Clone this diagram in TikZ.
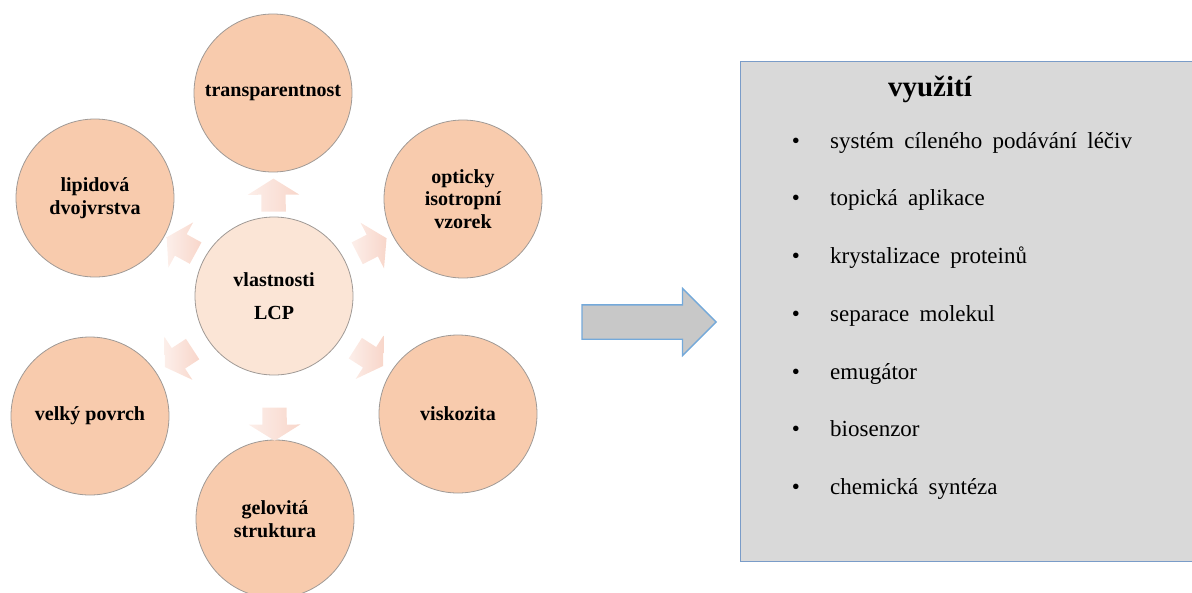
\documentclass[tikz,border=0pt]{standalone}
\usepackage{fontspec}
\setmainfont{Liberation Serif}
\usetikzlibrary{shapes.arrows,calc}
\definecolor{outerfill}{HTML}{F8CBAD}
\definecolor{centerfill}{HTML}{FBE5D6}
\definecolor{circborder}{HTML}{A09A96}
\definecolor{smallarrowc}{HTML}{F8D6CA}
\definecolor{boxfill}{HTML}{D9D9D9}
\definecolor{boxborder}{HTML}{7A9CC8}
\definecolor{bigfill}{HTML}{C8C8C8}
\definecolor{bigborder}{HTML}{74A9DA}
\newcommand{\myWideSpace}{\spaceskip=0.45em plus 0.1em\relax}
\begin{document}
\begin{tikzpicture}[x=1pt,y=-1pt,
  outer/.style={circle, draw=circborder, line width=0.8pt, fill=outerfill,
    minimum size=158pt, inner sep=0pt, align=center,
    font=\fontsize{20}{22.5}\selectfont\bfseries},
  centerc/.style={outer, fill=centerfill},
  smarrow/.style={single arrow, minimum height=33pt, minimum width=51pt,
    single arrow head extend=13.5pt, single arrow tip angle=116,
    inner xsep=1pt, inner ysep=12pt, allow upside down,
    shading=axis, left color=smallarrowc!40, right color=smallarrowc, draw=none},
  bigarrow/.style={single arrow, minimum height=134pt, minimum width=66pt,
    single arrow head extend=16.5pt, single arrow tip angle=90,
    inner xsep=1pt, inner ysep=16.5pt,
    fill=bigfill, draw=bigborder, line width=1.3pt},
  usebox/.style={rectangle, draw=boxborder, line width=1.3pt, fill=boxfill,
    minimum width=470pt, minimum height=500pt, inner sep=0pt},
  titletext/.style={font=\fontsize{29}{29}\selectfont\bfseries, inner sep=0pt},
  itemtext/.style={font=\fontsize{23}{27}\selectfont, inner sep=0pt, anchor=mid west},
  bullettext/.style={font=\fontsize{23}{27}\selectfont, inner sep=0pt, anchor=mid}
]
\useasboundingbox (0,0) rectangle (1192,592);
\clip (0,0) rectangle (1192,592);

% circles
\node[centerc] (c) at (274,296) {vlastnosti\\[10pt]LCP};
\node[outer] (t)  at (273,93)  {transparentnost};
\node[outer] (tr) at (463,199) {opticky\\isotropní\\vzorek};
\node[outer] (br) at (458,414) {viskozita};
\node[outer] (b)  at (275,519) {gelovitá\\struktura};
\node[outer] (bl) at (90,416)  {velký povrch};
\node[outer] (tl) at (95,198)  {lipidová\\dvojvrstva};

% small arrows
\path (c) -- node[pos=0.4, sloped, smarrow] (a1) {} (t);
\path (c) -- node[pos=0.5, sloped, smarrow] (a2) {} (tr);
\path (c) -- node[pos=0.5, sloped, smarrow] (a3) {} (br);
\path (c) -- node[pos=0.7, sloped, smarrow] (a4) {} (b);
\path (c) -- node[pos=0.5, sloped, smarrow] (a5) {} (bl);
\path (c) -- node[pos=0.5, sloped, smarrow] (a6) {} (tl);

% big arrow
\node[bigarrow, anchor=tip] (arr) at (717,322) {};

% box
\node[usebox, anchor=north west] (box) at (740,61) {};
\node[titletext] (title) at (930,89) {využití};
\foreach \txt [count=\i] in {systém cíleného podávání léčiv, topická aplikace,
  krystalizace proteinů, separace molekul, emugátor, biosenzor, chemická syntéza}{
  \pgfmathsetmacro{\yy}{146+57.7*(\i-1)}
  \node[bullettext] (bul\i) at (796,\yy) {•};
  \node[itemtext] (item\i) at (830,\yy) {\myWideSpace\txt};
}
\end{tikzpicture}
\end{document}
